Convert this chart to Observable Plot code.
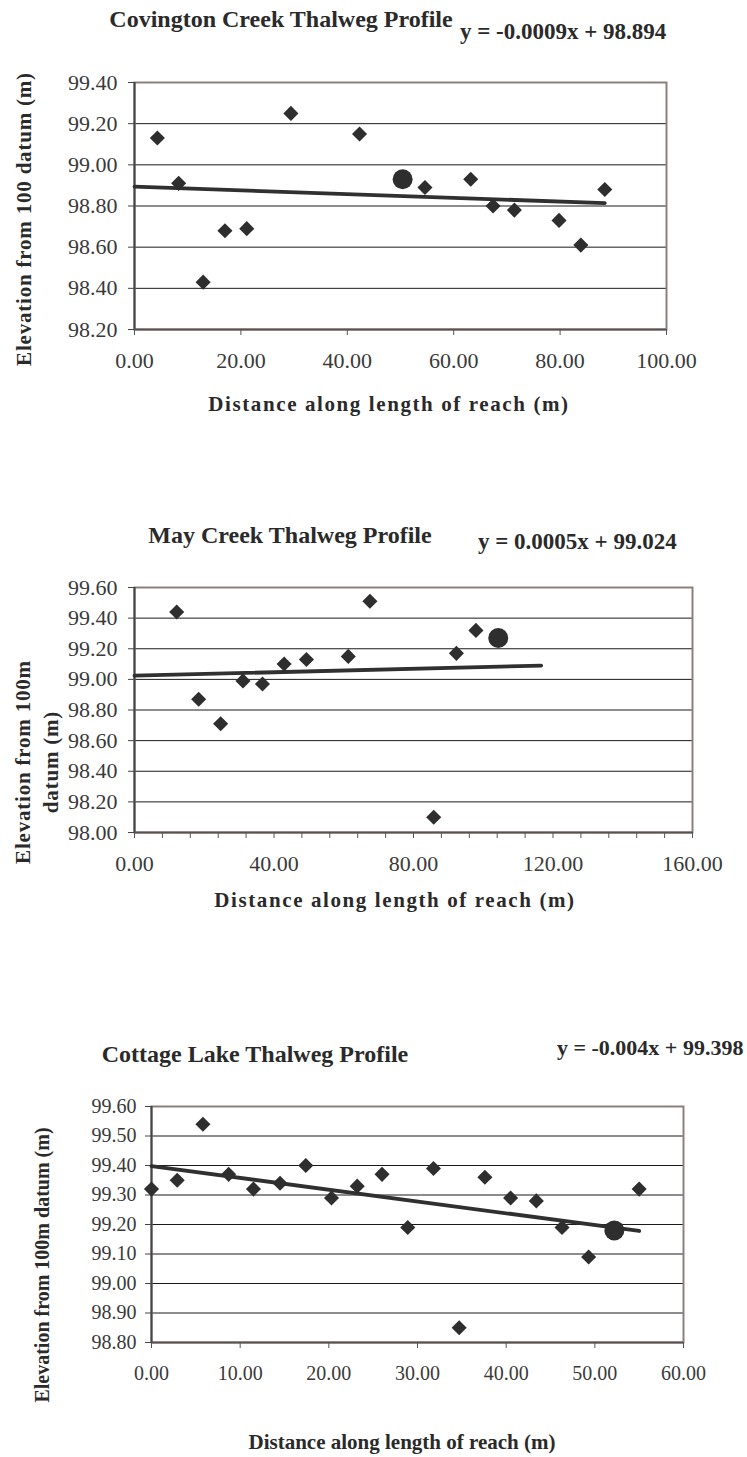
<!DOCTYPE html>
<html><head><meta charset="utf-8">
<script src="https://cdn.jsdelivr.net/npm/d3@7"></script>
<script src="https://cdn.jsdelivr.net/npm/@observablehq/plot@0.6"></script>
<style>
body{margin:0;background:#fff;}
#root{position:relative;width:747px;height:1457px;overflow:hidden;font-family:"Liberation Serif","Times New Roman",serif;color:#2a2a2a;background:#fff;}
.t{position:absolute;white-space:nowrap;line-height:1;}
.c{position:absolute;left:0;}
.c svg, .c svg text{font-family:"Liberation Serif","Times New Roman",serif !important;}
</style></head><body><div id="root"></div>
<script>
// ---------- Covington Creek ----------
const covTitle = "Covington Creek Thalweg Profile";
const covEq = "y = -0.0009x + 98.894";
const covX = [4.3, 8.3, 12.9, 17.0, 21.1, 29.4, 42.3, 54.6, 63.2, 67.4, 71.4, 79.8, 83.9, 88.4];
const covY = [99.13, 98.91, 98.43, 98.68, 98.69, 99.25, 99.15, 98.89, 98.93, 98.80, 98.78, 98.73, 98.61, 98.88];
const covCircleX = [50.4];
const covCircleY = [98.93];
const covTrendX = [0, 88.4];
const covTrendY = [98.894, 98.814];
const covXTicks = [0, 20, 40, 60, 80, 100];
const covXLabels = [0, 20, 40, 60, 80, 100];
const covYTicks = [98.2, 98.4, 98.6, 98.8, 99.0, 99.2, 99.4];

// ---------- May Creek ----------
const mayTitle = "May Creek Thalweg Profile";
const mayEq = "y = 0.0005x + 99.024";
const mayX = [12.1, 18.4, 24.7, 31.1, 36.7, 42.9, 49.3, 61.3, 67.5, 85.8, 92.3, 97.9];
const mayY = [99.44, 98.87, 98.71, 98.99, 98.97, 99.10, 99.13, 99.15, 99.51, 98.10, 99.17, 99.32];
const mayCircleX = [104.3];
const mayCircleY = [99.27];
const mayTrendX = [0, 116.6];
const mayTrendY = [99.024, 99.09];
const mayXTicks = [0, 8, 16, 24, 32, 40, 48, 56, 64, 72, 80, 88, 96, 104, 112, 120, 128, 136, 144, 152, 160];
const mayXLabels = [0, 40, 80, 120, 160];
const mayYTicks = [98.0, 98.2, 98.4, 98.6, 98.8, 99.0, 99.2, 99.4, 99.6];

// ---------- Cottage Lake ----------
const cotTitle = "Cottage Lake Thalweg Profile";
const cotEq = "y = -0.004x + 99.398";
const cotX = [0, 2.9, 5.8, 8.7, 11.5, 14.5, 17.4, 20.3, 23.2, 26.0, 28.9, 31.8, 34.7, 37.6, 40.5, 43.4, 46.3, 49.3, 55.0];
const cotY = [99.32, 99.35, 99.54, 99.37, 99.32, 99.34, 99.40, 99.29, 99.33, 99.37, 99.19, 99.39, 98.85, 99.36, 99.29, 99.28, 99.19, 99.09, 99.32];
const cotCircleX = [52.2];
const cotCircleY = [99.18];
const cotTrendX = [0, 55.0];
const cotTrendY = [99.398, 99.178];
const cotXTicks = [0, 10, 20, 30, 40, 50, 60];
const cotXLabels = [0, 10, 20, 30, 40, 50, 60];
const cotYTicks = [98.8, 98.9, 99.0, 99.1, 99.2, 99.3, 99.4, 99.5, 99.6];

const xTitle = "Distance along length of reach (m)";

const root = document.getElementById("root");
const FONT = '"Liberation Serif","Times New Roman",serif';
const fmt = d3.format(".2f");
const zip = (a, b) => a.map((v, i) => ({x: v, y: b[i]}));

function addText(str, o) {
  const d = document.createElement("div");
  d.className = "t";
  d.textContent = str;
  d.style.fontSize = o.size + "px";
  d.style.fontWeight = o.weight || "bold";
  d.style.left = o.x + "px";
  d.style.top = (o.y - 0.8375 * o.size) + "px";
  if (o.ls) d.style.letterSpacing = o.ls + "px";
  if (o.anchor === "middle") d.style.transform = "translateX(-50%)";
  root.appendChild(d);
}
function addRot(lines, o) {
  const d = document.createElement("div");
  d.className = "t";
  d.style.fontSize = o.size + "px";
  d.style.fontWeight = "bold";
  d.style.lineHeight = (o.lh || o.size) + "px";
  d.style.textAlign = "center";
  d.style.left = o.x + "px";
  d.style.top = o.y + "px";
  d.style.transform = "translate(-50%,-50%) rotate(-90deg)";
  if (o.ls) d.style.letterSpacing = o.ls + "px";
  d.innerHTML = lines.map(s => s.replace(/&/g, "&amp;")).join("<br>");
  root.appendChild(d);
}

function chart(c) {
  const mt = 10, mb = 50;
  const svg = Plot.plot({
    width: 747,
    height: mt + (c.B - c.T) + mb,
    marginLeft: c.L, marginRight: 747 - c.R, marginTop: mt, marginBottom: mb,
    x: {domain: c.xDomain},
    y: {domain: c.yDomain},
    style: {fontFamily: FONT, fontSize: c.font + "px", color: "#3a3a3a", background: "transparent", overflow: "visible"},
    marks: [
      Plot.gridY(c.yTicks, {stroke: "#1a1a1a", strokeOpacity: 1, strokeWidth: 1}),
      Plot.frame({stroke: "#8c807c", strokeWidth: 2}),
      Plot.ruleX([c.xDomain[0]], {stroke: "#454545", strokeWidth: 2}),
      Plot.ruleY([c.yDomain[0]], {stroke: "#5a5250", strokeWidth: 2}),
      Plot.axisY(c.yTicks, {tickSize: 6, tickPadding: c.yPad, tickFormat: fmt, fontSize: c.font, fontFamily: FONT, label: null, stroke: "#444"}),
      Plot.axisX(c.xTicks, {tickSize: 6, tickFormat: () => "", label: null, stroke: "#555"}),
      Plot.axisX(c.xLabels, {tickSize: 0, tickPadding: 23, tickFormat: fmt, fontSize: c.font, fontFamily: FONT, label: null}),
      Plot.line(zip(c.trendX, c.trendY), {x: "x", y: "y", stroke: "#303030", strokeWidth: 3.8}),
      Plot.dot(zip(c.xs, c.ys), {x: "x", y: "y", symbol: "diamond2", r: 6.8, fill: "#2e2e2e", stroke: "none"}),
      Plot.dot(zip(c.cx, c.cy), {x: "x", y: "y", r: 10, fill: "#2e2e2e", stroke: "none"})
    ]
  });
  const wrap = document.createElement("div");
  wrap.className = "c";
  wrap.style.top = (c.T - mt) + "px";
  wrap.appendChild(svg);
  root.appendChild(wrap);
}

// Chart 1
chart({xs: covX, ys: covY, cx: covCircleX, cy: covCircleY, trendX: covTrendX, trendY: covTrendY,
  xDomain: [0, 100], yDomain: [98.2, 99.4], xTicks: covXTicks, xLabels: covXLabels, yTicks: covYTicks,
  L: 134, R: 666, T: 82, B: 329, font: 22, yPad: 11});
addText(covTitle, {x: 281, y: 27, size: 24, anchor: "middle"});
addText(covEq, {x: 460, y: 39, size: 23});
addText(xTitle, {x: 389, y: 412, size: 21, anchor: "middle", ls: 1.6});
addRot(["Elevation from 100 datum (m)"], {x: 24, y: 219, size: 21, ls: 0.8});

// Chart 2
chart({xs: mayX, ys: mayY, cx: mayCircleX, cy: mayCircleY, trendX: mayTrendX, trendY: mayTrendY,
  xDomain: [0, 160], yDomain: [98.0, 99.6], xTicks: mayXTicks, xLabels: mayXLabels, yTicks: mayYTicks,
  L: 134, R: 692, T: 587, B: 832, font: 22, yPad: 11});
addText(mayTitle, {x: 290, y: 543, size: 24, anchor: "middle"});
addText(mayEq, {x: 478, y: 549, size: 23});
addText(xTitle, {x: 395, y: 908, size: 21, anchor: "middle", ls: 1.6});
addRot(["Elevation from 100m", "datum (m)"], {x: 37, y: 762, size: 21, lh: 28, ls: 0.8});

// Chart 3
chart({xs: cotX, ys: cotY, cx: cotCircleX, cy: cotCircleY, trendX: cotTrendX, trendY: cotTrendY,
  xDomain: [0, 60], yDomain: [98.8, 99.6], xTicks: cotXTicks, xLabels: cotXLabels, yTicks: cotYTicks,
  L: 151, R: 683, T: 1106, B: 1342, font: 20, yPad: 9});
addText(cotTitle, {x: 255, y: 1062, size: 24, anchor: "middle"});
addText(cotEq, {x: 557, y: 1055, size: 22});
addText(xTitle, {x: 402, y: 1450, size: 21, anchor: "middle"});
addRot(["Elevation from 100m datum (m)"], {x: 42, y: 1265, size: 20});
</script>
</body></html>
